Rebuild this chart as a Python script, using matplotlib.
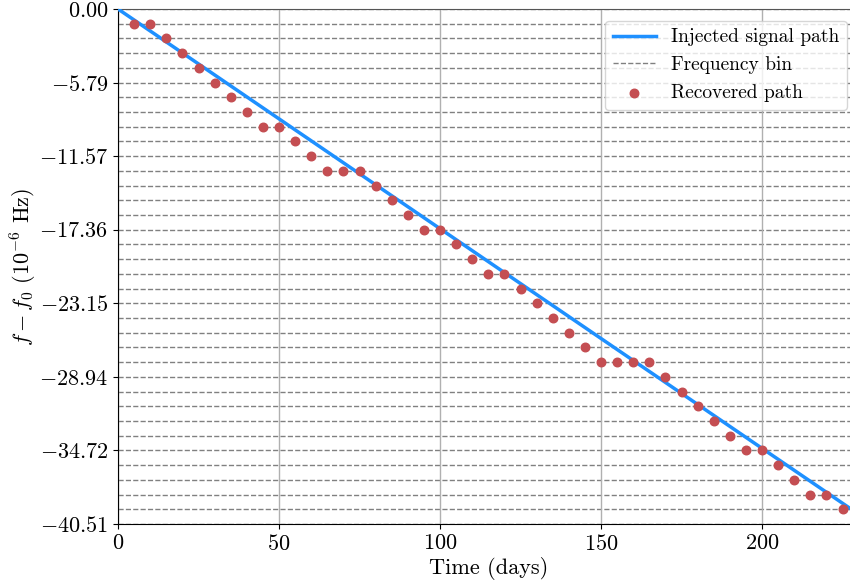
import numpy as np
import matplotlib
matplotlib.use("Agg")
import matplotlib.pyplot as plt

plt.rcParams['mathtext.fontset'] = 'cm'
plt.rcParams['font.family'] = 'serif'
plt.rcParams['font.serif'] = ['cmr10', 'DejaVu Serif']
plt.rcParams['axes.unicode_minus'] = False

# ancho de bin en 1e-6 Hz y numero de bins
bin_width = 40.51 / 35
n_bins = 35

# trayectoria inyectada (recta), extremos
t_line = [0, 230]
f_line = [0, -39.74]

# trayectoria recuperada: indice de bin cada 5 dias
t_rec = [5, 10, 15, 20, 25, 30, 35, 40, 45, 50, 55, 60, 65, 70, 75, 80, 85, 90,
         95, 100, 105, 110, 115, 120, 125, 130, 135, 140, 145, 150, 155, 160, 165,
         170, 175, 180, 185, 190, 195, 200, 205, 210, 215, 220, 225]
bin_rec = [1, 1, 2, 3, 4, 5, 6, 7, 8, 8, 9, 10, 11, 11, 11, 12, 13, 14,
           15, 15, 16, 17, 18, 18, 19, 20, 21, 22, 23, 24, 24, 24, 24,
           25, 26, 27, 28, 29, 30, 30, 31, 32, 33, 33, 34]
f_rec = [-b * bin_width for b in bin_rec]

ytick_vals = [0.00, -5.79, -11.57, -17.36, -23.15, -28.94, -34.72, -40.51]

fig = plt.figure(figsize=(8.5, 5.84), dpi=100)
ax = fig.add_axes([118 / 850, 1 - 524 / 584, 741 / 850, 515 / 584])

ax.plot(t_line, f_line, color='#1e90ff', lw=2.5, label='Injected signal path', zorder=3)
for k in range(n_bins + 1):
    ax.axhline(-k * bin_width, color='gray', ls='--', lw=1.0,
               label='Frequency bin' if k == 0 else None, zorder=1)
ax.scatter(t_rec, f_rec, color='#c44e52', s=38, label='Recovered path', zorder=4)

ax.set_xlim(0, 741 / 3.22)
ax.set_ylim(-40.51, 0)
ax.set_xticks([0, 50, 100, 150, 200])
ax.set_xticklabels(['$0$', '$50$', '$100$', '$150$', '$200$'])
ax.set_yticks([-k * bin_width * 5 for k in range(8)])
ax.set_yticklabels(['$%.2f$' % v for v in ytick_vals])
ax.tick_params(labelsize=16, direction='out', length=3.5)
ax.grid(axis='x', color='#b0b0b0', lw=1.0)
ax.spines['right'].set_visible(False)
ax.spines['top'].set_color('#555555')

ax.set_xlabel('Time (days)', fontsize=16, labelpad=2)
ax.set_ylabel(r'$f - f_0\ (10^{-6}$ Hz)', fontsize=16, labelpad=0)

ax.legend(loc='upper right', fontsize=14, framealpha=0.8, borderaxespad=0.6,
          handlelength=2.2)

plt.savefig('out.png', dpi=100)
